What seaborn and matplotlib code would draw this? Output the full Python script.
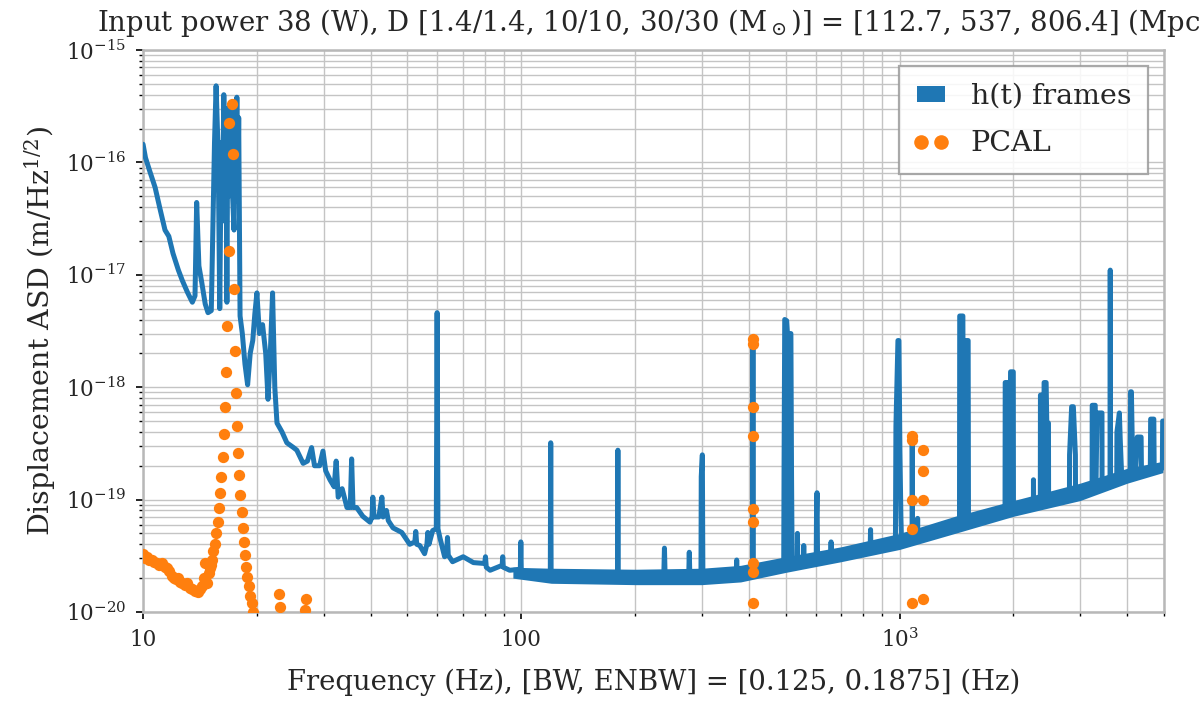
import numpy as np
import pandas as pd
import matplotlib
matplotlib.use("Agg")
import matplotlib.pyplot as plt
import matplotlib.patches as mpatches
import matplotlib.lines as mlines
from matplotlib.legend_handler import HandlerLine2D
from matplotlib.ticker import LogLocator, NullFormatter
import seaborn as sns

# ---- h(t) frames: displacement ASD trace (Hz, m/Hz^1/2) ----
asd_freq = [
    10.0, 10.15, 10.4, 10.6, 10.76, 11.1, 11.43, 11.7, 12.0, 12.4, 12.7, 13.1, 13.5,
    13.72, 13.86, 14.05, 14.3, 14.6, 14.85, 15.15, 15.45, 15.6, 15.8, 15.95, 16.1,
    16.2, 16.35, 16.45, 16.55, 16.66, 16.75, 16.85, 16.95, 17.05, 17.15, 17.25, 17.4,
    17.5, 17.6, 17.7, 17.8, 17.9,
    18.05, 18.3, 18.6, 18.9, 19.2, 19.5, 19.75, 20.0, 20.3, 20.7, 21.1, 21.4, 21.7,
    22.0, 22.3, 22.6, 23.3, 24.0, 25.0, 25.5, 26.0, 26.5, 27.2, 27.9, 28.4, 29.3, 29.9,
    30.4, 31.2, 32.0, 32.4, 32.8, 33.6, 34.6, 35.3, 35.6, 35.9, 36.7, 38.1, 39.8, 40.3,
    40.5, 40.8, 42.0, 42.8, 43.1, 44.0, 44.5, 45.8, 48.3, 50.7, 52.3, 52.6, 52.9, 53.9,
    55.5, 56.3, 56.6, 57.0, 58.3, 59.6, 59.9, 60.2, 61.0, 62.7, 63.5, 63.8, 64.1, 65.8,
    70.2, 74.7, 80.0, 80.4, 80.8, 82.7, 89.0, 89.3, 89.6, 93.2, 99.4, 99.7, 100.0, 105,
    119.3, 119.6, 119.9, 150, 179.6, 180.0, 180.4, 238, 239, 240, 277, 278, 279,
    298.5, 299, 301, 302, 370, 371, 372, 408.5, 409.5, 410.5,
    494, 495, 497, 503, 505, 508, 511, 516, 518, 520, 536, 537, 538, 557, 558, 559,
    602, 603, 605, 607, 658, 659, 660, 836, 838, 840,
    975, 978, 990, 996, 1002, 1008, 1012, 1079, 1080, 1082, 1115, 1116, 1117,
    1440, 1442, 1470, 1475, 1480, 1518, 1521, 1600, 1900, 1902, 1950, 1952, 1965, 1998, 2000,
    2258, 2259, 2262, 2355, 2357, 2400, 2405, 2410, 2440, 2450, 2475, 2477,
    2812, 2814, 2850, 2880, 2916, 2918, 3228, 3230, 3290, 3300, 3330, 3428, 3430,
    3600, 3605, 3612, 3750, 3755, 3811, 3830, 3870, 4070, 4080, 4100, 4120, 4200, 4250,
    4350, 4360, 4600, 4610, 4700, 4710, 4950, 4960, 5000,
]
asd_value = [
    1.45e-16, 1.1e-16, 8.5e-17, 7.0e-17, 6.0e-17, 3.8e-17, 2.5e-17, 2.2e-17, 1.55e-17, 1.1e-17, 8.9e-18, 7.0e-18, 5.7e-18,
    6.5e-18, 4.4e-17, 1.2e-17, 8.5e-18, 5.5e-18, 4.6e-18, 4.8e-18, 1.5e-16, 4.8e-16, 1.2e-16, 5.0e-18, 1.5e-16,
    3.0e-17, 4.0e-16, 8.0e-17, 3.0e-16, 5.7e-18, 2.8e-16, 5.0e-17, 3.2e-16, 6.0e-17, 3.4e-16, 5.0e-17, 2.5e-17,
    3.0e-16, 6.0e-17, 3.8e-16, 4.5e-17, 2.5e-16,
    4.3e-18, 3.0e-18, 1.6e-18, 1.05e-18, 2.0e-18, 2.6e-18, 4.5e-18, 6.9e-18, 3.0e-18, 3.6e-18, 2.0e-18, 7.8e-19, 2.0e-18,
    6.9e-18, 1.0e-18, 4.8e-19, 4.0e-19, 3.2e-19, 2.9e-19, 2.75e-19, 2.4e-19, 2.1e-19, 2.2e-19, 2.9e-19, 2.0e-19, 2.0e-19, 2.7e-19,
    1.8e-19, 1.5e-19, 1.3e-19, 2.2e-19, 1.05e-19, 1.25e-19, 8.5e-20, 8.5e-20, 2.3e-19, 8.5e-20, 8.5e-20, 7.1e-20, 6.3e-20, 7.0e-20,
    1.05e-19, 7.0e-20, 7.0e-20, 1.05e-19, 7.0e-20, 8.0e-20, 6.5e-20, 5.6e-20, 5.1e-20, 4.0e-20, 4.2e-20, 5.2e-20, 4.0e-20, 3.9e-20,
    3.3e-20, 4.0e-20, 5.1e-20, 4.0e-20, 5.3e-20, 5.5e-20, 4.6e-18, 5.5e-20, 4.5e-20, 3.1e-20, 3.5e-20, 4.6e-20, 3.2e-20, 2.8e-20,
    3.1e-20, 2.75e-20, 2.7e-20, 3.1e-20, 2.5e-20, 2.35e-20, 2.6e-20, 3.1e-20, 2.5e-20, 2.35e-20, 2.4e-20, 4.2e-20, 2.3e-20, 2.15e-20,
    2.1e-20, 3.2e-19, 2.1e-20, 2.0e-20, 2.0e-20, 2.75e-19, 2.0e-20, 2.05e-20, 3.7e-20, 2.05e-20, 2.05e-20, 3.4e-20, 2.05e-20,
    2.1e-20, 1.6e-19, 2.5e-19, 2.1e-20, 2.2e-20, 2.9e-20, 2.2e-20, 2.3e-20, 2.6e-18, 2.3e-20,
    2.6e-20, 2.0e-19, 4.0e-18, 3.9e-18, 3.1e-18, 2.7e-20, 3.0e-18, 3.0e-18, 1.7e-19, 2.7e-20, 2.7e-20, 5.0e-20, 2.7e-20, 2.8e-20, 3.9e-20, 2.8e-20,
    2.9e-20, 7.0e-20, 1.15e-19, 2.9e-20, 3.1e-20, 4.2e-20, 3.1e-20, 3.7e-20, 5.4e-20, 3.7e-20,
    4.1e-20, 4.5e-19, 2.6e-18, 2.6e-18, 2.75e-19, 7.0e-20, 4.2e-20, 4.5e-20, 3.6e-19, 4.5e-20, 4.6e-20, 6.8e-20, 4.6e-20,
    6.0e-20, 4.3e-18, 4.3e-18, 6.1e-20, 2.6e-18, 2.6e-18, 6.2e-20, 6.5e-20, 8.0e-20, 1.1e-18, 1.1e-18, 8.2e-20, 1.37e-18, 1.37e-18, 8.4e-20,
    9.0e-20, 1.5e-19, 9.0e-20, 9.5e-20, 8.5e-19, 8.5e-19, 9.7e-20, 1.1e-18, 1.1e-18, 4.8e-19, 4.8e-19, 1.0e-19,
    1.1e-19, 2.5e-19, 6.7e-19, 6.7e-19, 2.5e-19, 1.15e-19, 1.2e-19, 6.9e-19, 6.9e-19, 1.22e-19, 5.9e-19, 5.9e-19, 1.25e-19,
    1.3e-19, 1.1e-17, 1.3e-19, 1.4e-19, 4.0e-19, 5.9e-19, 3.5e-19, 1.45e-19, 1.6e-19, 9.1e-19, 9.1e-19, 3.6e-19, 1.6e-19, 3.6e-19,
    3.6e-19, 1.7e-19, 1.8e-19, 5.2e-19, 5.2e-19, 1.85e-19, 1.9e-19, 5.0e-19, 5.0e-19,
]

# ---- spread of the broadband noise floor above ~100 Hz ----
band_freq = [95, 120, 200, 300, 380, 500, 700, 1000, 1400, 2000, 3000, 4000, 5000]
band_low = [2.0e-20, 1.8e-20, 1.75e-20, 1.75e-20, 1.85e-20, 2.25e-20, 2.8e-20,
            3.6e-20, 5.0e-20, 7.1e-20, 9.8e-20, 1.4e-19, 1.75e-19]
band_high = [2.5e-20, 2.45e-20, 2.4e-20, 2.45e-20, 2.6e-20, 3.1e-20, 3.8e-20,
             5.0e-20, 7.1e-20, 9.8e-20, 1.4e-19, 1.9e-19, 2.2e-19]

# ---- PCAL calibration line points ----
pcal_freq = [
    10.0, 10.1, 10.25, 10.4, 10.55, 10.7, 10.9, 11.05, 11.2, 11.4, 11.55, 11.7, 11.9,
    12.05, 12.2, 12.35, 12.5, 12.7, 12.9, 13.1, 13.3, 13.5, 13.7, 13.85, 14.0, 14.15,
    14.3, 14.45, 14.6, 14.75, 14.9, 15.0, 15.1, 15.2, 15.3, 15.5, 15.6, 15.8, 15.9,
    15.95, 16.1, 16.3, 16.4, 16.5, 16.56, 16.67, 16.9, 16.9, 17.2, 17.3, 17.4, 17.5,
    17.6, 17.7, 17.8, 17.9, 18.05, 18.3, 18.4, 18.5, 18.6, 18.7, 18.8, 19.05, 19.2,
    19.4, 19.5, 22.9, 23.0, 26.9, 26.8,
    409.5, 409.5, 409.5, 409.5, 409.5, 409.5, 409.5, 409.5, 409.5,
    1080, 1080, 1080, 1080, 1080, 1151, 1151, 1151, 1151,
]
pcal_value = [
    3.3e-20, 3.0e-20, 3.1e-20, 2.9e-20, 2.9e-20, 2.8e-20, 2.7e-20, 2.6e-20, 2.7e-20, 2.5e-20, 2.45e-20, 2.3e-20, 2.1e-20,
    2.0e-20, 1.95e-20, 2.0e-20, 1.85e-20, 1.8e-20, 1.75e-20, 1.8e-20, 1.65e-20, 1.6e-20, 1.55e-20, 1.55e-20, 1.5e-20, 1.6e-20,
    1.7e-20, 2.0e-20, 2.7e-20, 1.8e-20, 2.2e-20, 2.45e-20, 2.6e-20, 2.9e-20, 3.5e-20, 4.0e-20, 5.0e-20, 6.3e-20, 8.5e-20,
    1.15e-19, 1.6e-19, 2.4e-19, 3.8e-19, 6.6e-19, 1.37e-18, 3.5e-18, 1.63e-17, 2.24e-16, 3.3e-16, 1.18e-16, 7.4e-18, 2.1e-18,
    8.9e-19, 4.5e-19, 2.6e-19, 1.65e-19, 1.1e-19, 7.8e-20, 5.6e-20, 4.2e-20, 3.2e-20, 2.5e-20, 2.05e-20, 1.7e-20, 1.4e-20,
    1.2e-20, 1.0e-20, 1.45e-20, 1.1e-20, 1.3e-20, 1.05e-20,
    2.7e-18, 2.4e-18, 6.7e-19, 3.7e-19, 8.3e-20, 6.3e-20, 2.7e-20, 2.25e-20, 1.2e-20,
    3.7e-19, 3.4e-19, 1.0e-19, 5.5e-20, 1.2e-20, 2.75e-19, 1.8e-19, 1.0e-19, 1.3e-20,
]

x_ticks = [10, 100, 1000]
x_tick_labels = ["10", "100", r"$10^3$"]

title = (r"Input power 38 (W), D [1.4/1.4, 10/10, 30/30 (M$_\odot$)] = "
         r"[112.7, 537, 806.4] (Mpc)")
xlabel = "Frequency (Hz), [BW, ENBW] = [0.125, 0.1875] (Hz)"
ylabel = r"Displacement ASD (m/Hz$^{1/2}$)"

sns.set_theme(style="whitegrid", palette="tab10")
plt.rcParams.update({
    "font.family": ["DejaVu Serif"],
    "mathtext.fontset": "dejavuserif",
})

blue, orange = sns.color_palette("tab10")[0], sns.color_palette("tab10")[1]

fig = plt.figure(figsize=(11.99, 7.01), dpi=100)
ax = fig.add_axes([0.1193, 0.127, 0.8515, 0.8017])
ax.set_xscale("log")
ax.set_yscale("log")

trace = pd.DataFrame({"f": asd_freq, "asd": asd_value})
pcal = pd.DataFrame({"f": pcal_freq, "asd": pcal_value})

ax.fill_between(band_freq, band_low, band_high, color=blue, lw=0, zorder=2)
sns.lineplot(data=trace, x="f", y="asd", ax=ax, color=blue, lw=3.6,
             estimator=None, sort=False, zorder=3)
sns.scatterplot(data=pcal, x="f", y="asd", ax=ax, color=orange, s=66,
                linewidth=0, zorder=4)

ax.set_xlim(10, 5000)
ax.set_ylim(1e-20, 1e-15)

ax.set_xticks(x_ticks, labels=x_tick_labels)
ax.xaxis.set_minor_locator(LogLocator(base=10, subs=np.arange(2, 10)))
ax.xaxis.set_minor_formatter(NullFormatter())
ax.yaxis.set_major_locator(LogLocator(base=10, numticks=10))
ax.yaxis.set_minor_locator(LogLocator(base=10, subs=np.arange(2, 10), numticks=20))
ax.yaxis.set_minor_formatter(NullFormatter())

ax.grid(True, which="both", color="#c4c4c4", lw=1.0)
ax.set_axisbelow(True)
for sp in ax.spines.values():
    sp.set_color("#b8b8b8")
    sp.set_linewidth(1.8)

ax.tick_params(which="major", direction="out", length=5, width=1.2, color="black",
               labelsize=15.5, pad=7, bottom=True, left=True)
ax.tick_params(which="minor", direction="out", length=3, width=1.0, color="black",
               bottom=True, left=True)

ax.set_title(title, fontsize=19.8, pad=14)
ax.set_xlabel(xlabel, fontsize=19.8, labelpad=12)
ax.set_ylabel(ylabel, fontsize=20.5, labelpad=6)

h_blue = mpatches.Patch(facecolor=blue, edgecolor="none", label="h(t) frames")
h_pcal = mlines.Line2D([], [], ls="none", marker="o", ms=10.5, color=orange,
                       markeredgewidth=0, label="PCAL")
leg = ax.legend(handles=[h_blue, h_pcal], loc="upper right", fontsize=20.5,
                handlelength=1.0, handleheight=0.5, handletextpad=0.9,
                labelspacing=0.7, borderaxespad=0.55, borderpad=0.6,
                fancybox=False, framealpha=0.85, edgecolor="#9a9a9a",
                handler_map={h_pcal: HandlerLine2D(numpoints=2, marker_pad=0.15)})
leg.get_frame().set_linewidth(1.6)

fig.savefig("out.png", dpi=100)
